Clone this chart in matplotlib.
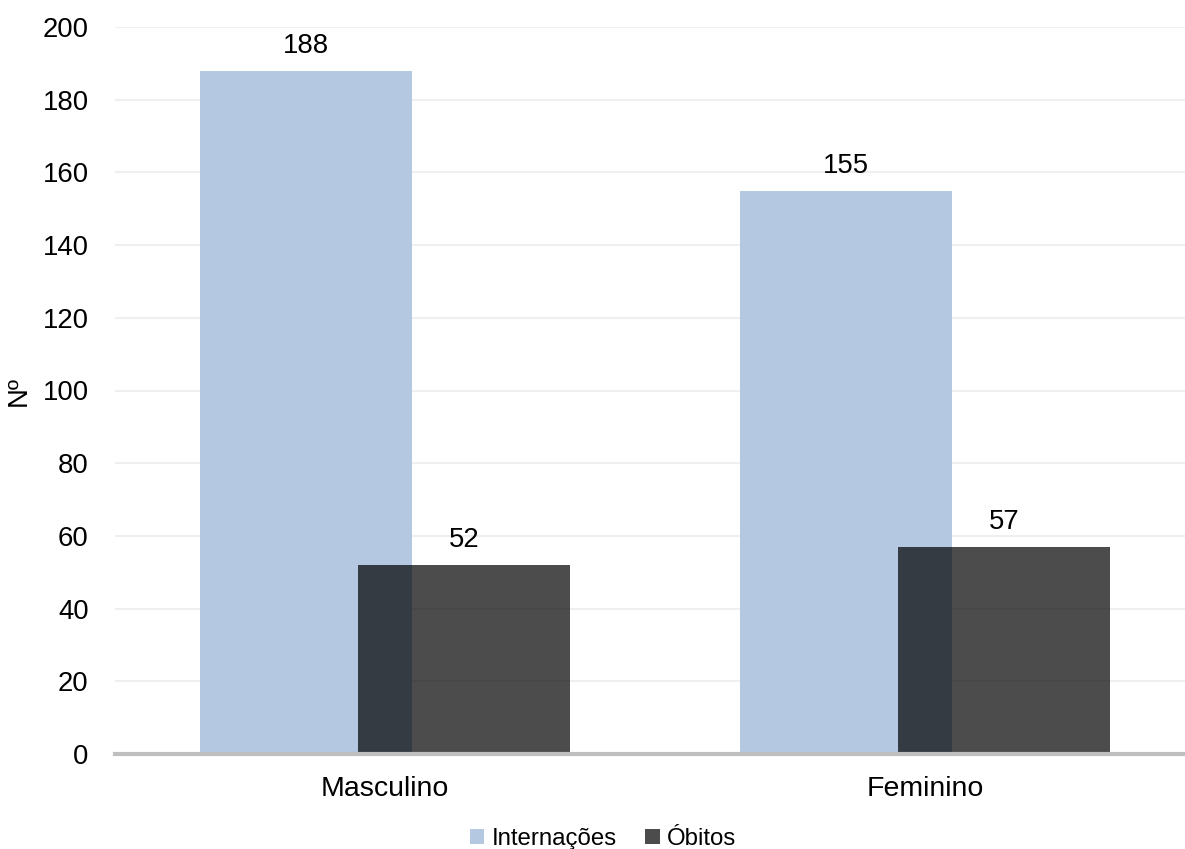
import matplotlib
matplotlib.use("Agg")
import matplotlib.pyplot as plt
import numpy as np

categories = ["Masculino", "Feminino"]
internacoes = [188, 155]
obitos = [52, 57]
series_names = ["Internações", "Óbitos"]
y_ticks = [0, 20, 40, 60, 80, 100, 120, 140, 160, 180, 200]

plt.rcParams["font.family"] = ["Liberation Sans", "DejaVu Sans"]

W, H, DPI = 1185, 849, 100
fig = plt.figure(figsize=(W / DPI, H / DPI), dpi=DPI)
left, right = 115 / W, 1195 / W
top, bottom = 1 - 27 / H, 1 - 754 / H
ax = fig.add_axes([left, bottom, right - left, top - bottom])

x = np.arange(len(categories))
width = 0.393
offset = 0.147

b1 = ax.bar(x - offset, internacoes, width, color="#b4c8e1", zorder=2,
            label=series_names[0])
b2 = ax.bar(x + offset, obitos, width, color="black", alpha=0.7, zorder=3,
            label=series_names[1])

for bars, vals in ((b1, internacoes), (b2, obitos)):
    for rect, v in zip(bars, vals):
        ax.annotate(f"{v}", (rect.get_x() + rect.get_width() / 2, v),
                    xytext=(0, 25), textcoords="offset pixels",
                    ha="center", va="center", fontsize=19.8, color="black")

ax.set_xlim(-0.5, len(categories) - 0.5)
ax.set_ylim(0, 200)
ax.set_yticks(y_ticks)
ax.set_xticks(x)
ax.set_xticklabels(categories)
ax.tick_params(axis="both", length=0, colors="black")
ax.tick_params(axis="y", pad=19, labelsize=19.8)
ax.tick_params(axis="x", pad=16, labelsize=20.5)

ax.yaxis.grid(True, color="#efefef", linewidth=1.5, zorder=0)
ax.set_axisbelow(True)
for s in ("top", "right", "left"):
    ax.spines[s].set_visible(False)
ax.spines["bottom"].set_color("#bfbfbf")
ax.spines["bottom"].set_linewidth(3)
ax.spines["bottom"].set_zorder(4)

ax.set_ylabel("Nº", fontsize=19.8)
ax.yaxis.set_label_coords(-83 / (1195 - 115), 0.5)

leg = fig.legend(handles=[b1, b2], labels=series_names, loc="center",
                 bbox_to_anchor=(603 / W, 1 - 839 / H), ncol=2, frameon=False,
                 fontsize=17.3, handlelength=0.6, handleheight=0.6,
                 handletextpad=0.3, columnspacing=1.2)

fig.savefig("out.png", dpi=DPI)
